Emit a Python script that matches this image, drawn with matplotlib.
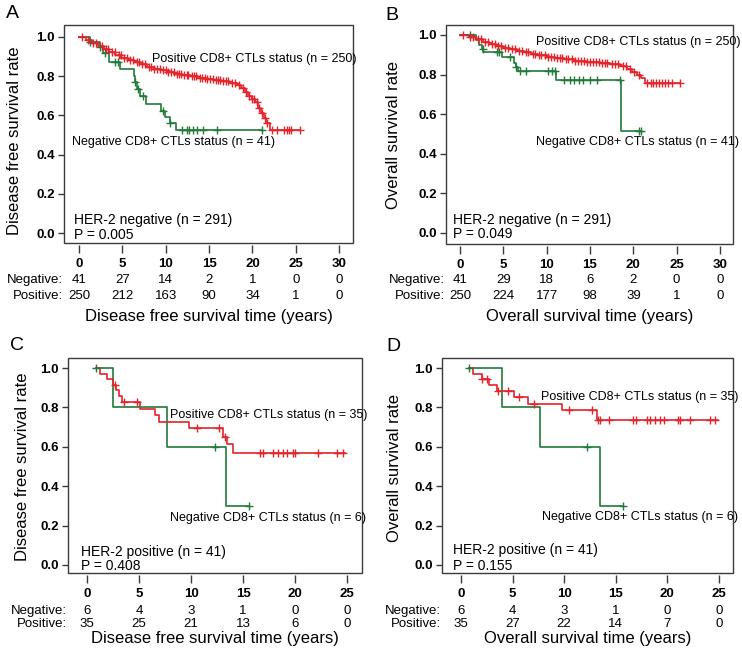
import matplotlib
matplotlib.use('Agg')
import matplotlib.pyplot as plt
import numpy as np
from matplotlib.patches import Rectangle

plt.rcParams['font.family'] = ['Liberation Sans', 'DejaVu Sans']

RED = '#e3242b'
GREEN = '#23793a'
FRAME = '#3a3a3a'

# ---------------- Panel A: DFS, HER-2 negative ----------------
a_neg_times = [0, 1.3, 2.4, 2.8, 3.5, 4.7, 6.3, 6.5, 6.7, 7.0, 7.7, 9.4, 9.9, 10.5, 11.2]
a_neg_surv = [1.0, 0.975, 0.95, 0.92, 0.87, 0.835, 0.80, 0.77, 0.735, 0.70, 0.66, 0.62, 0.59, 0.56, 0.525]
a_neg_end = 21.1
a_neg_cens = [1.3, 2.4, 3.0, 4.2, 4.5, 6.5, 6.8, 7.4, 9.7, 10.5, 11.9, 12.4, 12.7, 13.1, 13.6, 14.3, 15.9, 21.1]

a_pos_times = [0, 0.8, 1.5, 2.2, 2.9, 3.5, 4.2, 4.9, 5.6, 6.3, 7.0, 7.8, 8.6, 9.4, 10.2, 11.0, 11.9,
               12.8, 13.7, 14.6, 15.5, 16.4, 17.3, 18.2, 18.7, 19.1, 19.5, 19.9, 20.3, 20.7, 21.0, 21.3,
               21.6, 22.0]
a_pos_surv = [1.0, 0.985, 0.97, 0.955, 0.94, 0.925, 0.91, 0.895, 0.885, 0.872, 0.86, 0.848, 0.838,
              0.829, 0.821, 0.813, 0.806, 0.800, 0.793, 0.786, 0.779, 0.773, 0.765, 0.755, 0.74, 0.72,
              0.70, 0.685, 0.668, 0.64, 0.612, 0.585, 0.56, 0.525]
a_pos_end = 25.5
a_pos_cens = [0.3, 1.0, 1.6, 2.0, 2.6, 3.1, 3.3, 3.8, 4.1, 4.6, 4.8, 5.2, 5.5, 5.9, 6.2, 6.7, 6.9,
              7.3, 7.6, 8.1, 8.3, 8.7, 9.0, 9.3, 9.7, 10.0, 10.3, 10.6, 10.9, 11.3, 11.5, 11.8, 12.1,
              12.4, 12.6, 13.0, 13.3, 13.5, 13.9, 14.2, 14.5, 14.8, 15.1, 15.4, 15.8, 16.0, 16.3, 16.6,
              16.9, 17.2, 17.6, 18.0, 18.4, 18.9, 19.3, 19.6, 20.0, 20.2, 20.5, 20.8, 21.1, 21.4, 21.7,
              22.3, 22.8, 23.6, 24.0, 24.2, 24.4, 25.5]
a_neg_risk = [41, 27, 14, 2, 1, 0, 0]
a_pos_risk = [250, 212, 163, 90, 34, 1, 0]

# ---------------- Panel B: OS, HER-2 negative ----------------
b_neg_times = [0, 1.8, 2.2, 2.5, 2.7, 4.8, 6.2, 6.5, 6.7, 11.1, 18.6]
b_neg_surv = [1.0, 0.976, 0.951, 0.927, 0.915, 0.888, 0.86, 0.84, 0.82, 0.77, 0.513]
b_neg_end = 20.9
b_neg_cens = [1.2, 2.6, 4.3, 4.5, 5.8, 6.5, 6.9, 7.6, 10.2, 10.6, 11.0, 12.0, 12.7, 13.2, 13.7,
              14.2, 15.0, 15.8, 18.5, 20.6, 20.9]

b_pos_times = [0, 1.0, 1.8, 2.6, 3.4, 4.2, 5.0, 5.8, 6.6, 7.4, 8.2, 9.0, 10.0, 11.0, 12.0, 13.2,
               14.5, 16.2, 17.3, 18.5, 19.3, 19.9, 20.4, 20.9, 21.3]
b_pos_surv = [1.0, 0.99, 0.978, 0.966, 0.955, 0.945, 0.936, 0.928, 0.92, 0.912, 0.904, 0.897, 0.889,
              0.882, 0.876, 0.869, 0.863, 0.858, 0.852, 0.842, 0.83, 0.815, 0.80, 0.78, 0.757]
b_pos_end = 25.4
b_pos_cens = [0.3, 1.2, 1.5, 2.1, 2.4, 2.9, 3.2, 3.7, 4.0, 4.4, 4.7, 5.2, 5.5, 6.0, 6.3, 6.8, 7.1,
              7.6, 7.9, 8.4, 8.7, 9.1, 9.4, 9.8, 10.2, 10.5, 10.8, 11.2, 11.5, 11.8, 12.2, 12.5, 12.9,
              13.3, 13.6, 14.0, 14.3, 14.7, 15.0, 15.3, 15.7, 16.0, 16.4, 16.7, 17.0, 17.5, 17.9,
              18.2, 18.8, 19.1, 19.6, 20.1, 20.6, 21.6, 22.0, 22.3, 22.6, 23.0, 23.3, 23.6, 24.0,
              24.5, 25.4]
b_neg_risk = [41, 29, 18, 6, 2, 0, 0]
b_pos_risk = [250, 224, 177, 98, 39, 1, 0]

# ---------------- Panel C: DFS, HER-2 positive ----------------
c_neg_times = [0.9, 2.5, 7.7, 13.4]
c_neg_surv = [1.0, 0.80, 0.60, 0.30]
c_neg_end = 15.6
c_neg_cens = [0.9, 12.3, 15.6]

c_pos_times = [0.9, 1.2, 1.9, 2.5, 2.8, 3.1, 3.4, 5.1, 6.5, 6.9, 9.8, 13.1, 13.5, 14.0]
c_pos_surv = [1.0, 0.971, 0.943, 0.914, 0.886, 0.857, 0.825, 0.793, 0.762, 0.725, 0.693, 0.652,
              0.612, 0.571]
c_pos_end = 24.8
c_pos_cens = [2.7, 3.6, 4.8, 10.6, 12.7, 13.3, 16.6, 16.9, 17.9, 18.4, 18.8, 19.2, 19.8, 20.0,
              22.2, 24.0, 24.6]
c_neg_risk = [6, 4, 3, 1, 0, 0]
c_pos_risk = [35, 25, 21, 13, 6, 0]

# ---------------- Panel D: OS, HER-2 positive ----------------
d_neg_times = [0.8, 4.0, 7.7, 13.5]
d_neg_surv = [1.0, 0.80, 0.60, 0.30]
d_neg_end = 15.7
d_neg_cens = [0.8, 12.2, 15.7]

d_pos_times = [0.8, 1.2, 2.0, 2.7, 3.5, 5.1, 6.5, 9.8, 13.2]
d_pos_surv = [1.0, 0.971, 0.943, 0.914, 0.882, 0.851, 0.819, 0.785, 0.738]
d_pos_end = 24.9
d_pos_cens = [2.0, 2.5, 3.6, 4.6, 5.6, 7.1, 10.5, 12.7, 13.3, 13.5, 14.3, 16.7, 17.0, 18.0, 18.3,
              18.8, 19.3, 19.7, 21.0, 21.2, 22.2, 24.1, 24.6]
d_neg_risk = [6, 4, 3, 1, 0, 0]
d_pos_risk = [35, 27, 22, 14, 7, 0]

W, H = 742, 660
fig = plt.figure(figsize=(W / 100, H / 100), dpi=100)


def px_axes(left, top, right, bottom):
    return fig.add_axes([left / W, 1 - bottom / H, (right - left) / W, (bottom - top) / H])


def km(ax, times, surv, end, cens, color):
    t = list(times) + [end]
    s = list(surv) + [surv[-1]]
    ax.step(t, s, where='post', color=color, lw=1.2, zorder=4)
    idx = np.searchsorted(np.asarray(times), np.asarray(cens), side='right') - 1
    cy = np.asarray(surv)[idx]
    ax.plot(cens, cy, ls='none', marker='+', ms=6, mew=1.0, color=color, zorder=5)


def panel(box, xlim, ylim, xticks, letter, letter_xy, ylabel, ylabel_y, ylabel_off, xlabel,
          xlabel_off, risk_neg, risk_pos, row_offs, curves, texts):
    ax = px_axes(*box)
    for sp in ax.spines.values():
        sp.set_visible(False)
    ax.spines['bottom'].set_position(('outward', 1.5))
    ax.add_patch(Rectangle((0, 0), 1, 1, transform=ax.transAxes, fill=False, ec=FRAME, lw=1.0,
                           clip_on=False, zorder=6))
    ax.set_xlim(*xlim)
    ax.set_ylim(*ylim)
    ax.set_xticks(xticks)
    ax.set_xticklabels([str(v) for v in xticks], fontweight='bold', fontsize=9.5)
    yt = [0.0, 0.2, 0.4, 0.6, 0.8, 1.0]
    ax.set_yticks(yt)
    ax.set_yticklabels(['%.1f' % v for v in yt], fontweight='bold', fontsize=9.5)
    ax.tick_params(axis='x', direction='out', length=6, width=1, color=FRAME, pad=3)
    ax.tick_params(axis='y', direction='out', length=4.5, width=1, color=FRAME, pad=2)
    for c in curves:
        km(ax, *c)
    for (s, xp, yp) in texts:
        fig.text(xp / W, 1 - yp / H, s, fontsize=9 if 'CD8' in s else 10, va='center', ha='left')
    # number at risk table
    for lab, vals, off in (('Negative:', risk_neg, row_offs[0]), ('Positive:', risk_pos, row_offs[1])):
        ax.annotate(lab, xy=(0, 0), xycoords='axes fraction', xytext=(-1, -off),
                    textcoords='offset pixels', ha='right', va='center', fontsize=9.5)
        for xv, v in zip(xticks, vals):
            ax.annotate(str(v), xy=(xv, 0), xycoords=('data', 'axes fraction'),
                        xytext=(0, -off), textcoords='offset pixels', ha='center', va='center',
                        fontsize=9.5)
    ax.annotate(xlabel, xy=(0.5, 0), xycoords='axes fraction', xytext=(0, -xlabel_off),
                textcoords='offset pixels', ha='center', va='center', fontsize=12)
    ax.annotate(ylabel, xy=(0, ylabel_y), xycoords=('axes fraction', 'data'),
                xytext=(-ylabel_off, 0), textcoords='offset pixels', ha='center', va='center',
                rotation=90, fontsize=12)
    fig.text(letter_xy[0] / W, 1 - letter_xy[1] / H, letter, fontsize=14, ha='left', va='center')
    return ax


panel((64, 25, 353, 243), (-1.73, 31.6), (-0.051, 1.061), [0, 5, 10, 15, 20, 25, 30],
      'A', (6, 14), 'Disease free survival rate', 0.47, 49,
      'Disease free survival time (years)', 74, a_neg_risk, a_pos_risk, (37, 53),
      [(a_neg_times, a_neg_surv, a_neg_end, a_neg_cens, GREEN),
       (a_pos_times, a_pos_surv, a_pos_end, a_pos_cens, RED)],
      [('Positive CD8+ CTLs status (n = 250)', 152, 59),
       ('Negative CD8+ CTLs status (n = 41)', 72, 142),
       ('HER-2 negative (n = 291)', 74, 220),
       ('P = 0.005', 74, 235)])

panel((446, 25, 733, 244), (-1.615, 31.5), (-0.056, 1.05), [0, 5, 10, 15, 20, 25, 30],
      'B', (385, 15), 'Overall survival rate', 0.495, 53,
      'Overall survival time (years)', 73, b_neg_risk, b_pos_risk, (36, 52),
      [(b_neg_times, b_neg_surv, b_neg_end, b_neg_cens, GREEN),
       (b_pos_times, b_pos_surv, b_pos_end, b_pos_cens, RED)],
      [('Positive CD8+ CTLs status (n = 250)', 536, 42),
       ('Negative CD8+ CTLs status (n = 41)', 536, 142),
       ('HER-2 negative (n = 291)', 453, 220),
       ('P = 0.049', 453, 234)])

panel((68, 358, 362, 573), (-1.83, 26.44), (-0.041, 1.051), [0, 5, 10, 15, 20, 25],
      'C', (10, 345), 'Disease free survival rate', 0.5, 45,
      'Disease free survival time (years)', 66, c_neg_risk, c_pos_risk, (38, 51),
      [(c_neg_times, c_neg_surv, c_neg_end, c_neg_cens, GREEN),
       (c_pos_times, c_pos_surv, c_pos_end, c_pos_cens, RED)],
      [('Positive CD8+ CTLs status (n = 35)', 170, 415),
       ('Negative CD8+ CTLs status (n = 6)', 170, 518),
       ('HER-2 positive (n = 41)', 81, 552),
       ('P = 0.408', 81, 566)])

panel((442, 358, 733, 573), (-1.84, 26.36), (-0.041, 1.051), [0, 5, 10, 15, 20, 25],
      'D', (386, 346), 'Overall survival rate', 0.49, 47,
      'Overall survival time (years)', 66, d_neg_risk, d_pos_risk, (38, 51),
      [(d_neg_times, d_neg_surv, d_neg_end, d_neg_cens, GREEN),
       (d_pos_times, d_pos_surv, d_pos_end, d_pos_cens, RED)],
      [('Positive CD8+ CTLs status (n = 35)', 541, 397),
       ('Negative CD8+ CTLs status (n = 6)', 542, 517),
       ('HER-2 positive (n = 41)', 453, 550),
       ('P = 0.155', 453, 566)])

fig.savefig('out.png', dpi=100)
